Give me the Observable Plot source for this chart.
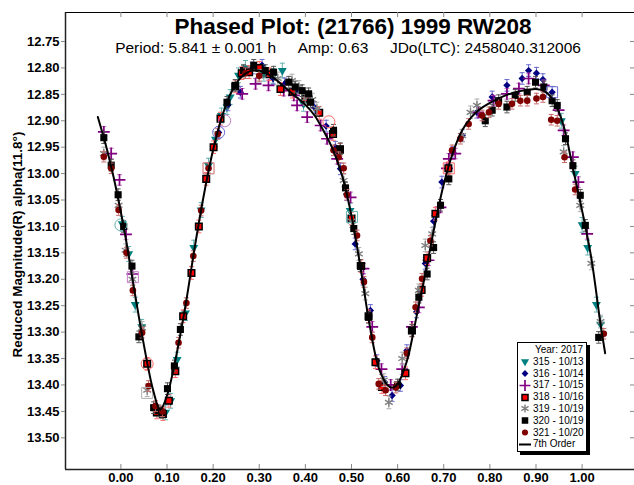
<!DOCTYPE html>
<html>
<head>
<meta charset="utf-8">
<script src="https://cdn.jsdelivr.net/npm/d3@7"></script>
<script src="https://cdn.jsdelivr.net/npm/@observablehq/plot@0.6"></script>
<style>
html,body{margin:0;padding:0;background:#fff;}
#wrap{position:relative;width:634px;height:485px;overflow:hidden;font-family:"Liberation Sans",Arial,sans-serif;}
#legend{position:absolute;left:517px;top:342px;width:70px;height:110px;box-sizing:border-box;border:1px solid #000;background:#fff;box-shadow:3px 3px 0 #000;font-size:10px;color:#000;padding-top:1px;}
#legend .row{height:11.8px;line-height:11.8px;display:flex;align-items:center;white-space:nowrap;}
#legend .row svg{flex:none;margin-left:1px;margin-right:2px;overflow:visible;}
#legend .yr{justify-content:flex-end;padding-right:3px;}
</style>
</head>
<body>
<div id="wrap"></div>
<script>
// ---------------- DATA ----------------
const titleText = "Phased Plot: (21766) 1999 RW208";
const subtitleText = "Period: 5.841 \u00b1 0.001 h\u00a0\u00a0\u00a0\u00a0\u00a0Amp: 0.63\u00a0\u00a0\u00a0\u00a0\u00a0JDo(LTC): 2458040.312006";
const yLabel = "Reduced Magnitude(R) alpha(11.8\u00b0)";
const legendYear = "Year: 2017";
const fitLabel = "7th Order";

const xTicks = [0.00,0.10,0.20,0.30,0.40,0.50,0.60,0.70,0.80,0.90,1.00];
const yTicks = [12.75,12.80,12.85,12.90,12.95,13.00,13.05,13.10,13.15,13.20,13.25,13.30,13.35,13.40,13.45,13.50];
const xDomain = [-0.1201, 1.1136];
const yDomain = [12.6951, 13.5600];

const sessionIds = [315,316,317,318,319,320,321];
const sessionDates = ["10/13","10/14","10/15","10/16","10/19","10/19","10/20"];
const sessionErr = [0.014,0.011,0.010,0.012,0.012,0.011,0.010];

// [phase, reduced magnitude]
const s315 = [[0.003,13.095],[0.017,13.152],[0.031,13.248],[0.045,13.29],[0.097,13.452],[0.108,13.43],[0.122,13.352],[0.14,13.264],[0.158,13.14],[0.174,13.069],[0.19,12.985],[0.205,12.935],[0.218,12.89],[0.23,12.874],[0.237,12.855],[0.255,12.814],[0.27,12.80],[0.31,12.811],[0.33,12.815],[0.35,12.805],[0.396,12.868],[0.497,13.07],[0.955,12.90],[0.985,13.0],[1.0,13.097],[1.012,13.14],[1.031,13.248],[1.04,13.285]];
const s316 = [[0.212,12.922],[0.232,12.87],[0.259,12.846],[0.285,12.80],[0.306,12.795],[0.33,12.82],[0.355,12.83],[0.38,12.845],[0.42,12.875],[0.445,12.91],[0.465,12.95],[0.476,12.991],[0.49,13.04],[0.508,13.133],[0.525,13.2],[0.541,13.259],[0.555,13.354],[0.572,13.395],[0.588,13.42],[0.606,13.401],[0.62,13.335],[0.641,13.262],[0.66,13.17],[0.678,13.09],[0.696,13.016],[0.72,12.96],[0.74,12.928],[0.772,12.884],[0.805,12.855],[0.837,12.833],[0.87,12.82],[0.884,12.805],[0.901,12.81],[0.915,12.822],[0.935,12.846]];
const s317 = [[-0.037,12.921],[-0.021,12.962],[-0.003,13.012],[0.011,13.115],[0.025,13.19],[0.263,12.849],[0.292,12.83],[0.32,12.833],[0.353,12.843],[0.375,12.852],[0.382,12.871],[0.404,12.893],[0.433,12.909],[0.447,12.934],[0.469,12.972],[0.498,13.045],[0.526,13.18],[0.545,13.29],[0.565,13.37],[0.585,13.40],[0.61,13.37],[0.631,13.29],[0.646,13.253],[0.667,13.164],[0.693,13.064],[0.707,12.99],[0.711,12.972],[0.725,12.962],[0.775,12.884],[0.808,12.862],[0.837,12.849],[0.863,12.839],[0.884,12.82],[0.917,12.833],[0.949,12.88],[0.96,12.918],[0.98,12.969],[0.992,13.016],[1.011,13.114]];
const s318 = [[0.057,13.36],[0.078,13.452],[0.091,13.455],[0.104,13.43],[0.118,13.374],[0.135,13.27],[0.153,13.188],[0.169,13.10],[0.185,13.01],[0.201,12.95],[0.216,12.896],[0.248,12.835],[0.262,12.81],[0.278,12.808],[0.30,12.80],[0.322,12.812],[0.346,12.84],[0.372,12.845],[0.40,12.858],[0.43,12.885],[0.46,12.925],[0.475,12.955],[0.50,13.085],[0.521,13.175],[0.537,13.27],[0.552,13.357],[0.566,13.404],[0.617,13.378],[0.631,13.297],[0.652,13.22],[0.664,13.16],[0.682,13.076],[0.71,12.99]];
const s319 = [[-0.037,12.962],[-0.005,13.06],[0.01,13.145],[0.025,13.2],[0.046,13.292],[0.057,13.41],[0.30,12.815],[0.34,12.82],[0.371,12.824],[0.386,12.836],[0.40,12.858],[0.415,12.86],[0.425,12.877],[0.483,13.013],[0.50,13.09],[0.516,13.152],[0.53,13.227],[0.57,13.391],[0.581,13.433],[0.61,13.35],[0.646,13.221],[0.66,13.136],[0.675,13.114],[0.74,12.928],[0.758,12.884],[0.772,12.871],[0.96,12.959],[0.996,13.06],[1.02,13.17],[1.04,13.28]];
const s320 = [[-0.037,12.932],[-0.021,12.984],[-0.006,13.04],[0.006,13.10],[0.024,13.175],[0.039,13.309],[0.071,13.443],[0.082,13.449],[0.089,13.452],[0.101,13.407],[0.116,13.364],[0.129,13.295],[0.23,12.865],[0.248,12.833],[0.266,12.805],[0.288,12.795],[0.313,12.805],[0.331,12.808],[0.364,12.827],[0.378,12.836],[0.393,12.843],[0.407,12.849],[0.411,12.865],[0.461,12.918],[0.476,12.953],[0.487,13.027],[0.505,13.104],[0.519,13.174],[0.537,13.272],[0.60,13.40],[0.631,13.297],[0.646,13.234],[0.664,13.19],[0.678,13.14],[0.693,13.06],[0.711,13.01],[0.79,12.90],[0.805,12.88],[0.819,12.862],[0.837,12.874],[0.855,12.852],[0.881,12.846],[0.899,12.827],[0.917,12.836],[0.935,12.862],[0.946,12.871],[0.964,12.934],[0.98,12.985],[0.996,13.041],[1.007,13.098],[1.036,13.31]];
const s321 = [[-0.037,12.968],[-0.021,12.99],[-0.005,13.069],[0.012,13.15],[0.026,13.221],[0.046,13.301],[0.06,13.402],[0.075,13.44],[0.09,13.45],[0.125,13.32],[0.142,13.245],[0.157,13.156],[0.174,13.07],[0.19,12.99],[0.21,12.925],[0.27,12.81],[0.30,12.815],[0.461,12.956],[0.472,12.969],[0.483,12.99],[0.49,13.04],[0.512,13.117],[0.527,13.205],[0.545,13.31],[0.559,13.398],[0.574,13.41],[0.596,13.405],[0.62,13.34],[0.639,13.253],[0.653,13.199],[0.671,13.127],[0.718,12.956],[0.736,12.934],[0.754,12.906],[0.783,12.89],[0.798,12.884],[0.819,12.868],[0.848,12.868],[0.866,12.862],[0.881,12.862],[0.901,12.858],[0.915,12.855],[0.933,12.898],[0.946,12.90],[0.962,12.969],[0.985,13.03],[1.047,13.303]];

// first-point (hollow) markers: [session, phase, mag]
const hollowCircles = [[315,0.0,13.097],[318,0.057,13.36],[316,0.212,12.922],[317,0.225,12.90],[318,0.451,12.902]];
const hollowSquares = [[317,0.026,13.196],[319,0.057,13.415],[321,0.19,12.99],[315,0.501,13.082],[318,0.711,12.99],[316,0.935,12.846]];

// 7th order Fourier fit: [phase, mag]
const fitCurve = [[-0.05,12.893],[-0.03,12.955],[-0.01,13.03],[0.01,13.12],[0.03,13.225],[0.05,13.325],[0.07,13.41],[0.085,13.447],[0.10,13.42],[0.12,13.345],[0.14,13.25],[0.16,13.14],[0.18,13.04],[0.20,12.955],[0.22,12.89],[0.24,12.845],[0.26,12.818],[0.28,12.806],[0.30,12.805],[0.32,12.812],[0.34,12.825],[0.36,12.84],[0.38,12.855],[0.40,12.87],[0.42,12.89],[0.44,12.92],[0.46,12.955],[0.48,13.005],[0.50,13.08],[0.52,13.18],[0.54,13.29],[0.56,13.37],[0.58,13.402],[0.59,13.405],[0.60,13.398],[0.62,13.355],[0.64,13.275],[0.66,13.19],[0.68,13.10],[0.70,13.02],[0.72,12.96],[0.74,12.918],[0.76,12.893],[0.78,12.877],[0.80,12.866],[0.82,12.857],[0.84,12.85],[0.86,12.845],[0.88,12.842],[0.90,12.84],[0.92,12.845],[0.94,12.865],[0.96,12.91],[0.98,12.99],[1.00,13.07],[1.02,13.16],[1.04,13.285],[1.05,13.34]];

// ---------------- STYLE ----------------
const sessionData = {315:s315,316:s316,317:s317,318:s318,319:s319,320:s320,321:s321};
const styles = {
  315:{symbol:"triangle", rotate:180, r:3.3, fill:"#008080", stroke:"none", sw:0, bar:"#66b3b3"},
  316:{symbol:"diamond2", rotate:0, r:3.3, fill:"#000080", stroke:"none", sw:0, bar:"#6b6bd0"},
  317:{symbol:"plus", rotate:0, r:3.9, fill:"none", stroke:"#800080", sw:1.7, bar:"#c77cc7"},
  318:{symbol:"square", rotate:0, r:3.7, fill:"#ff0000", stroke:"#000", sw:1.5, bar:"#ff6b6b"},
  319:{symbol:"asterisk", rotate:0, r:4.2, fill:"none", stroke:"#808080", sw:1.4, bar:"#b0b0b0"},
  320:{symbol:"square", rotate:0, r:4.0, fill:"#000", stroke:"none", sw:0, bar:"#555555"},
  321:{symbol:"circle", rotate:0, r:3.3, fill:"#800000", stroke:"none", sw:0, bar:"#c86b6b"}
};
const capSymbol = {draw(ctx, size){ const w = Math.sqrt(size/Math.PI); ctx.moveTo(-w,0); ctx.lineTo(w,0); }};

const W = 634, H = 485, mL = 65, mR = 0, mT = 12, mB = 16;
const fw = W - mL - mR, fh = H - mT - mB;
const fmt = d3.format(".2f");

const marks = [];
// frame
marks.push(Plot.ruleY([yDomain[0]], {stroke:"#000", strokeWidth:1}));
marks.push(Plot.ruleX([xDomain[0]], {stroke:"#222", strokeWidth:1.5}));
marks.push(Plot.ruleY([yDomain[1]], {stroke:"#222", strokeWidth:1.5}));
// ticks
marks.push(Plot.tickX(xTicks, {x:d=>d, insetTop: fh-5, stroke:"#888"}));
marks.push(Plot.tickX(xTicks, {x:d=>d, insetBottom: fh-5, stroke:"#888"}));
marks.push(Plot.tickY(yTicks, {y:d=>d, insetLeft:-4, insetRight: fw, stroke:"#888"}));
marks.push(Plot.tickY(yTicks, {y:d=>d, insetLeft: fw-4, stroke:"#888"}));
// axis labels
marks.push(Plot.axisX(xTicks, {tickSize:0, tickPadding:3, tickFormat:fmt, fontSize:13, fontWeight:"bold", label:null}));
marks.push(Plot.axisY(yTicks, {tickSize:0, tickPadding:6, tickFormat:fmt, fontSize:13, fontWeight:"bold", label:null}));
marks.push(Plot.text([yLabel], {text:d=>d, frameAnchor:"left", rotate:-90, dx:-48, dy:3.5, fontSize:13.5, fontWeight:"bold", textAnchor:"middle", lineAnchor:"middle"}));
// title
marks.push(Plot.text([titleText], {text:d=>d, frameAnchor:"top", lineAnchor:"top", dx:3, dy:6, fontSize:22.5, fontWeight:"bold"}));
marks.push(Plot.text([subtitleText], {text:d=>d, frameAnchor:"top", lineAnchor:"top", dx:-2, dy:29, fontSize:15.5}));

// data
sessionIds.forEach((id, i) => {
  const data = sessionData[id], s = styles[id], e = sessionErr[i];
  marks.push(Plot.ruleX(data, {x:d=>d[0], y1:d=>d[1]-e, y2:d=>d[1]+e, stroke:s.bar, strokeWidth:1}));
  marks.push(Plot.dot(data, {x:d=>d[0], y:d=>d[1]-e, symbol:capSymbol, r:2.5, fill:"none", stroke:s.bar, strokeWidth:1}));
  marks.push(Plot.dot(data, {x:d=>d[0], y:d=>d[1]+e, symbol:capSymbol, r:2.5, fill:"none", stroke:s.bar, strokeWidth:1}));
  marks.push(Plot.dot(data, {x:d=>d[0], y:d=>d[1], symbol:s.symbol, rotate:s.rotate, r:s.r, fill:s.fill, stroke:s.stroke, strokeWidth:s.sw}));
});
marks.push(Plot.dot(hollowCircles, {x:d=>d[1], y:d=>d[2], symbol:"circle", r:6, fill:"none", stroke:d=>styles[d[0]].bar, strokeWidth:1}));
marks.push(Plot.dot(hollowSquares, {x:d=>d[1], y:d=>d[2], symbol:"square", r:6.2, fill:"none", stroke:d=>styles[d[0]].bar, strokeWidth:1}));
// fit
marks.push(Plot.line(fitCurve, {x:d=>d[0], y:d=>d[1], stroke:"#000", strokeWidth:2, curve:"catmull-rom"}));

const chart = Plot.plot({
  width: W, height: H,
  marginLeft: mL, marginRight: mR, marginTop: mT, marginBottom: mB,
  x: {domain: xDomain},
  y: {domain: yDomain, reverse: true},
  color: {type: "identity"},
  style: {fontFamily: "'Liberation Sans', Arial, sans-serif", background: "#fff", color: "#000", overflow: "visible"},
  marks
});
const wrap = document.getElementById("wrap");
wrap.appendChild(chart);

// legend overlay
const symMap = {triangle:d3.symbolTriangle, diamond2:d3.symbolDiamond2, plus:d3.symbolPlus, square:d3.symbolSquare, asterisk:d3.symbolAsterisk, circle:d3.symbolCircle};
let html = `<div class="row yr">${legendYear}</div>`;
sessionIds.forEach((id, i) => {
  const s = styles[id];
  const path = d3.symbol(symMap[s.symbol], Math.PI * s.r * s.r * 0.85)();
  html += `<div class="row"><svg width="12" height="11" viewBox="-6 -5.5 12 11"><path d="${path}" fill="${s.fill}" stroke="${s.stroke}" stroke-width="${s.sw}" transform="rotate(${s.rotate})"/></svg><span>${id} - ${sessionDates[i]}</span></div>`;
});
html += `<div class="row"><svg width="12" height="11"><line x1="0" x2="12" y1="5.5" y2="5.5" stroke="#000" stroke-width="2"/></svg><span>${fitLabel}</span></div>`;
const lg = document.createElement("div");
lg.id = "legend";
lg.innerHTML = html;
wrap.appendChild(lg);
</script>
</body>
</html>
